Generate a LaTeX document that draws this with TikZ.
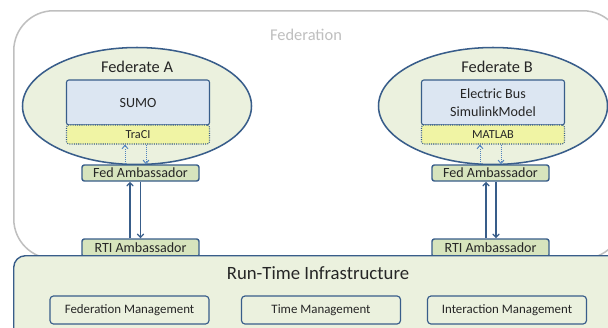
\documentclass[tikz,border=0pt]{standalone}
\usepackage{fontspec}
\setmainfont{Carlito}
\usetikzlibrary{shapes.geometric, arrows.meta}

\definecolor{lineBlue}{HTML}{385D8A}
\definecolor{arrowBlue}{HTML}{4F81BD}
\definecolor{paleGreen}{HTML}{EBF1DE}
\definecolor{ambGreen}{HTML}{D7E4BD}
\definecolor{simBlue}{HTML}{DCE6F2}
\definecolor{apiYellow}{HTML}{F0F4A4}
\definecolor{frameGray}{HTML}{BFBFBF}
\definecolor{textDark}{HTML}{262626}

\newcommand{\px}{0.03cm}

\tikzset{
    fedEllipse/.style={ellipse, draw=lineBlue, line width=1.3pt, fill=paleGreen,
        minimum width=229*\px, minimum height=117*\px},
    simBox/.style={draw=lineBlue, line width=0.9pt, fill=simBlue, rounded corners=2pt,
        minimum width=143*\px, minimum height=45*\px, align=center,
        font=\fontsize{12}{15}\selectfont},
    apiBox/.style={draw=lineBlue, densely dotted, line width=0.9pt, fill=apiYellow,
        rounded corners=2pt, minimum width=143*\px, minimum height=19*\px,
        font=\fontsize{10.5}{12}\selectfont},
    ambBox/.style={draw=lineBlue, line width=1.2pt, fill=ambGreen, rounded corners=2pt,
        minimum width=117*\px, inner sep=0pt, font=\fontsize{12}{14}\selectfont},
    mgmtBox/.style={draw=lineBlue, line width=1pt, fill=paleGreen, rounded corners=3pt,
        minimum width=159*\px, minimum height=28*\px, font=\fontsize{11}{13}\selectfont},
    dotArrow/.style={-{Straight Barb[length=3pt, width=5pt]}, arrowBlue, densely dotted, line width=0.8pt},
    solidArrow/.style={-{Straight Barb[length=3pt, width=5.5pt]}, lineBlue, line width=1pt},
}

\begin{document}
\begin{tikzpicture}[x=\px, y=-\px, text=textDark]

    \useasboundingbox (0,0) rectangle (608,327);
    \clip (0,0) rectangle (608,327);

    % federation frame
    \node[draw=frameGray, line width=1.3pt, fill=white, rounded corners=34pt,
        minimum width=609*\px, minimum height=248*\px, anchor=north west] (federation) at (13,10) {};
    \node[text=frameGray, font=\fontsize{14}{16}\selectfont] (federationLabel) at (306,35) {Federation};

    % federates
    \node[fedEllipse] (federateA) at (137,106) {};
    \node[fedEllipse] (federateB) at (493,106) {};
    \node[font=\fontsize{14}{16}\selectfont] (labelA) at (137,67) {Federate A};
    \node[font=\fontsize{14}{16}\selectfont] (labelB) at (497,67) {Federate B};

    \node[simBox] (simA) at (138,102.5) {SUMO};
    \node[simBox] (simB) at (493,102.5) {Electric Bus\\SimulinkModel};
    \node[apiBox] (apiA) at (138,134.5) {TraCI};
    \node[apiBox] (apiB) at (493,134.5) {MATLAB};

    \node[ambBox, minimum height=16*\px] (fedAmbA) at (140.5,173) {Fed Ambassador};
    \node[ambBox, minimum height=16*\px] (fedAmbB) at (490.5,173) {Fed Ambassador};
    \node[ambBox, minimum height=18*\px] (rtiAmbA) at (140.5,248) {RTI Ambassador};
    \node[ambBox, minimum height=18*\px] (rtiAmbB) at (490.5,248) {RTI Ambassador};

    % federate <-> ambassador
    \draw[dotArrow] ([xshift=-13*\px]apiA.south |- fedAmbA.north) -- ([xshift=-13*\px]apiA.south);
    \draw[dotArrow] ([xshift=8*\px]apiA.south) -- ([xshift=8*\px]apiA.south |- fedAmbA.north);
    \draw[dotArrow] ([xshift=-13*\px]apiB.south |- fedAmbB.north) -- ([xshift=-13*\px]apiB.south);
    \draw[dotArrow] ([xshift=8*\px]apiB.south) -- ([xshift=8*\px]apiB.south |- fedAmbB.north);

    % ambassador <-> ambassador
    \draw[solidArrow] ([xshift=-10.5*\px]rtiAmbA.north) -- ([xshift=-10.5*\px]fedAmbA.south);
    \draw[solidArrow] (fedAmbA.south) -- (rtiAmbA.north);
    \draw[solidArrow] ([xshift=-4.5*\px]rtiAmbB.north) -- ([xshift=-4.5*\px]fedAmbB.south);
    \draw[solidArrow] ([xshift=5.5*\px]fedAmbB.south) -- ([xshift=5.5*\px]rtiAmbB.north);

    % run-time infrastructure
    \node[draw=lineBlue, line width=1.2pt, fill=paleGreen, rounded corners=10pt,
        minimum width=615*\px, minimum height=90*\px, anchor=north west] (rti) at (13,255) {};
    \node[font=\fontsize{16}{18}\selectfont] (rtiLabel) at (318,273) {Run-Time Infrastructure};

    \node[mgmtBox] (fedMgmt) at (129.5,310) {Federation Management};
    \node[mgmtBox] (timeMgmt) at (321,310) {Time Management};
    \node[mgmtBox] (interMgmt) at (507,310) {Interaction Management};

\end{tikzpicture}
\end{document}
